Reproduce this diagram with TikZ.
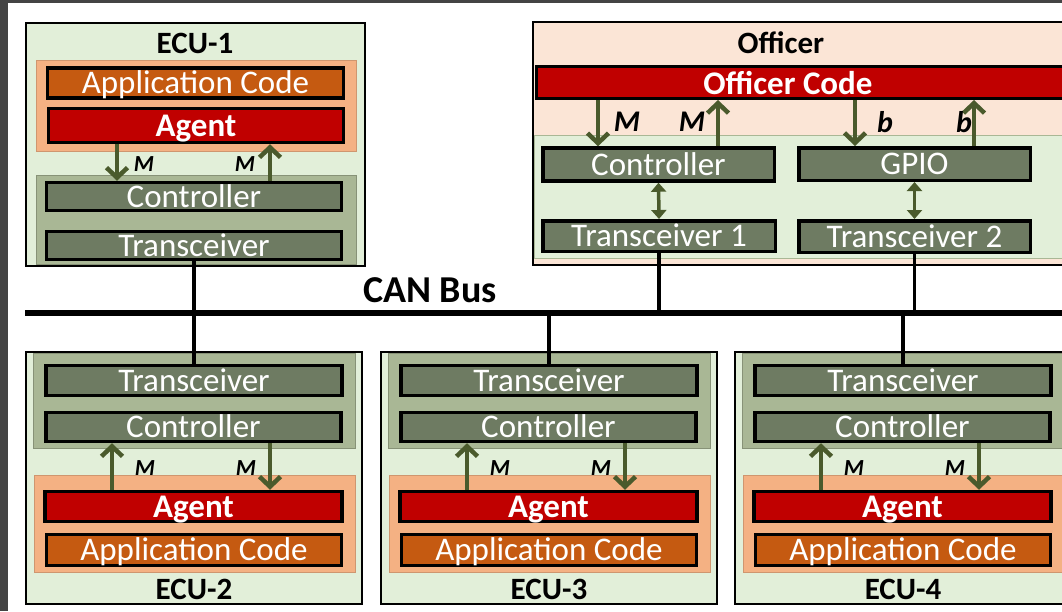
\documentclass[tikz,border=0pt]{standalone}
\usepackage{fontspec}
\setmainfont{Carlito}
\usepackage{xcolor}
\usepackage{tikz}
\usetikzlibrary{arrows.meta}
\usetikzlibrary{positioning}

\definecolor{ecugreen}{HTML}{E2EFD9}
\definecolor{hwolive}{HTML}{A9B795}
\definecolor{partgray}{HTML}{6E7B62}
\definecolor{swsalmon}{HTML}{F4B183}
\definecolor{appbrown}{HTML}{C55A11}
\definecolor{agentred}{HTML}{C00000}
\definecolor{offpink}{HTML}{FBE5D6}
\definecolor{sigolive}{HTML}{4A5A2C}
\definecolor{framegray}{HTML}{444444}

\newcommand{\partfont}{\fontsize{33}{35}\selectfont}
\newcommand{\titlefont}{\fontsize{31}{33}\selectfont\bfseries}
\newcommand{\msgfont}{\fontsize{23}{25}\selectfont\bfseries\itshape}
\newcommand{\msgbigfont}{\fontsize{30}{32}\selectfont\bfseries\itshape}

\begin{document}
\begin{tikzpicture}[x=1pt,y=-1pt]
	\tikzstyle{encl}=[draw=black, line width=2pt, fill=ecugreen, inner sep=0pt]
	\tikzstyle{hw}=[draw=hwolive!80!black, line width=0.8pt, fill=hwolive, inner sep=0pt]
	\tikzstyle{sw}=[draw=swsalmon!85!black, line width=0.8pt, fill=swsalmon, inner sep=0pt]
	\tikzstyle{part}=[draw=black, line width=3.5pt, fill=partgray, text=white, font=\partfont, inner sep=0pt, text height=23pt, text depth=1.3pt]
	\tikzstyle{app}=[part, fill=appbrown]
	\tikzstyle{agent}=[part, fill=agentred, font=\partfont\bfseries]
	\tikzstyle{ttl}=[font=\titlefont, inner sep=0pt]
	\tikzstyle{msg}=[font=\msgfont, inner sep=0pt]
	\tikzstyle{msgbig}=[font=\msgbigfont, inner sep=0pt]
	\tikzstyle{sig}=[draw=sigolive, line width=4.5pt, -{Straight Barb[length=10pt,width=21pt]}]
	\tikzstyle{link}=[draw=sigolive, line width=3.5pt, {Triangle[length=9pt,width=15pt]}-{Triangle[length=9pt,width=15pt]}]
	\tikzstyle{wire}=[draw=black, line width=3.5pt]

	\useasboundingbox (0,0) rectangle (1062,611);
	\clip (0,0) rectangle (1062,611);
	\fill[framegray] (0,0) rectangle (1062,611);
	\fill[white] (8,3) rectangle (1062,611);

	% ECU-1
	\node[encl, minimum width=339pt, minimum height=243pt] (ecu1) at (195.5,144.5) {};
	\node[ttl] (ecu1t) at (195,43) {ECU-1};
	\node[sw, minimum width=320pt, minimum height=91pt] (sw1) at (196,105.5) {};
	\node[app, minimum width=296pt, minimum height=30pt] (app1) at (195.5,83) {Application Code};
	\node[agent, minimum width=295pt, minimum height=34pt] (agent1) at (196,125.5) {Agent};
	\node[hw, minimum width=320pt, minimum height=89pt] (hw1) at (196,220) {};
	\node[part, minimum width=295pt, minimum height=28pt] (ctrl1) at (194,196.5) {Controller};
	\node[part, minimum width=295pt, minimum height=28pt] (trx1) at (194,245.5) {Transceiver};
	\coordinate (d1) at ([xshift=-79pt]agent1.south);
	\coordinate (u1) at ([xshift=74pt]agent1.south);
	\draw[sig] (d1) -- (d1 |- ctrl1.north);
	\draw[sig] (u1 |- ctrl1.north) -- (u1);
	\node[msg] (md1) at (144,164) {M};
	\node[msg] (mu1) at (245,164) {M};

	% ECU-2 .. ECU-4
	\foreach \x/\k in {25/2, 380/3, 734/4} {
		\node[encl, minimum width=336pt, minimum height=252pt] (ecu\k) at (\x+169,478) {};
		\node[hw, minimum width=322pt, minimum height=95pt] (hw\k) at (\x+169.5,401) {};
		\node[part, minimum width=296pt, minimum height=30pt] (trx\k) at (\x+169,380.5) {Transceiver};
		\node[part, minimum width=295pt, minimum height=29pt] (ctrl\k) at (\x+168.5,427) {Controller};
		\node[sw, minimum width=321pt, minimum height=97pt] (sw\k) at (\x+169.5,523.5) {};
		\node[agent, minimum width=297pt, minimum height=30pt] (agent\k) at (\x+168.5,506.5) {Agent};
		\node[app, minimum width=295pt, minimum height=31pt] (app\k) at (\x+169,550) {Application Code};
		\node[ttl] (ecu\k t) at (\x+169,589) {ECU-\k};
		\coordinate (u\k) at ([xshift=-81.5pt]agent\k.north);
		\coordinate (d\k) at ([xshift=76.5pt]agent\k.north);
		\draw[sig] (u\k) -- (u\k |- ctrl\k.south);
		\draw[sig] (d\k |- ctrl\k.south) -- (d\k);
		\node[msg] (mu\k) at (\x+120,468) {M};
		\node[msg] (md\k) at (\x+221,468) {M};
	}

	% Officer
	\node[draw=black, line width=2.5pt, fill=offpink, minimum width=560pt, minimum height=243pt, inner sep=0pt] (off) at (813,143.5) {};
	\node[ttl] (offt) at (781,43) {Officer};
	\node[draw=black, line width=3pt, fill=agentred, minimum width=560pt, minimum height=32pt, inner sep=0pt] (offcode) at (816,82.5) {};
	\node[font=\partfont\bfseries, text=white, inner sep=0pt] (offcodet) at (788,83.5) {Officer Code};
	\node[draw=hwolive, line width=1pt, fill=ecugreen, minimum width=562pt, minimum height=123pt, inner sep=0pt] (offhw) at (815,196.5) {};
	\node[part, minimum width=231.5pt, minimum height=33pt] (ctrlO) at (658.5,164.5) {Controller};
	\node[part, minimum width=231.5pt, minimum height=32.5pt] (gpio) at (914.5,164) {GPIO};
	\node[part, minimum width=232.5pt, minimum height=30.5pt] (trxO1) at (659,236) {Transceiver 1};
	\node[part, minimum width=231.5pt, minimum height=31.5pt] (trxO2) at (914.5,236.5) {Transceiver 2};
	\coordinate (dO) at ([xshift=-60.5pt]ctrlO.north);
	\coordinate (uO) at ([xshift=59.5pt]ctrlO.north);
	\coordinate (dG) at ([xshift=-59.5pt]gpio.north);
	\coordinate (uG) at ([xshift=59.5pt]gpio.north);
	\draw[sig] (dO |- offcode.south) -- (dO);
	\draw[sig] (uO) -- (uO |- offcode.south);
	\draw[sig] (dG |- offcode.south) -- (dG);
	\draw[sig] (uG) -- (uG |- offcode.south);
	\node[msgbig] (mdO) at (627,122) {M};
	\node[msgbig] (muO) at (692,122) {M};
	\node[msgbig] (bdG) at (885,122) {b};
	\node[msgbig] (buG) at (964,122) {b};
	\path[link] (ctrlO.south) -- (trxO1.north);
	\path[link] (gpio.south) -- (trxO2.north);

	% CAN bus
	\coordinate (busL) at (25,313);
	\coordinate (busR) at (1080,313);
	\draw[wire, line width=5.5pt] (busL) -- (busR);
	\node[font=\fontsize{38}{40}\selectfont\bfseries, inner sep=0pt] (canbus) at (430,290) {CAN Bus};
	\draw[wire] (trx1.south) -- (trx1.south |- busL);
	\draw[wire] (trxO1.south) -- (trxO1.south |- busL);
	\draw[wire] (trxO2.south) -- (trxO2.south |- busL);
	\foreach \k in {2,3,4}
		\draw[wire] (trx\k.north) -- (trx\k.north |- busL);
\end{tikzpicture}
\end{document}
